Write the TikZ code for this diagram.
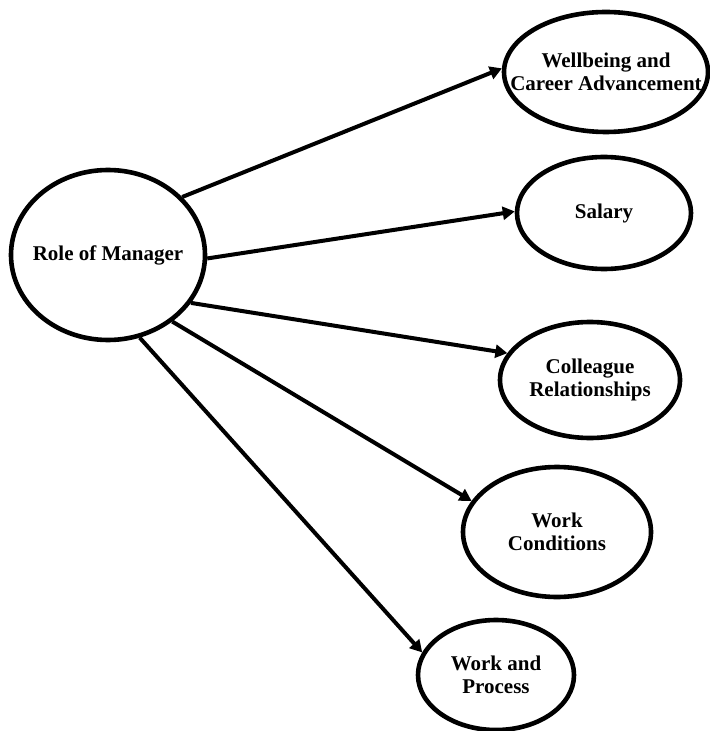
\documentclass[tikz,border=0pt]{standalone}
\usepackage{fontspec}
\setmainfont{Liberation Serif}
\usepackage{tikz}
\usetikzlibrary{shapes.geometric,arrows.meta}

\begin{document}
\begin{tikzpicture}[x=0.5pt,y=-0.5pt,
  every node/.style={font=\fontsize{10.5}{11.5}\selectfont\bfseries},
  bubble/.style={draw,ellipse,line width=2.3pt,inner sep=0pt},
  txt/.style={align=center,inner sep=0pt},
  link/.style={line width=2pt,-{Triangle[length=6pt,width=6.5pt]}}]
\useasboundingbox (0,0) rectangle (709,731);
% centre and factors
\node[bubble,minimum width=97pt,minimum height=85pt,label={[txt]center:Role of Manager}] (role) at (108,255) {};
\node[bubble,minimum width=102pt,minimum height=60pt,label={[txt]center:Wellbeing and\\Career Advancement}] (well) at (606,72) {};
\node[bubble,minimum width=87pt,minimum height=56pt,label={[txt]center:Salary}] (salary) at (604,213) {};
\node[bubble,minimum width=90pt,minimum height=58pt,label={[txt]center:Colleague\\Relationships}] (colleague) at (590,380) {};
\node[bubble,minimum width=94pt,minimum height=65pt,label={[txt]center:Work\\Conditions}] (conditions) at (557,532) {};
\node[bubble,minimum width=78pt,minimum height=55pt,label={[txt]center:Work and\\Process}] (process) at (496,675) {};
% arrows out of the manager
\draw[link] (role.38) -- (well.178);
\draw[link] (role.-2) -- (salary.179);
\draw[link] (role.-30) -- (colleague.162);
\draw[link] (role.-46) -- (conditions.160);
\draw[link] (role.-69) -- (process.163);
\end{tikzpicture}
\end{document}
